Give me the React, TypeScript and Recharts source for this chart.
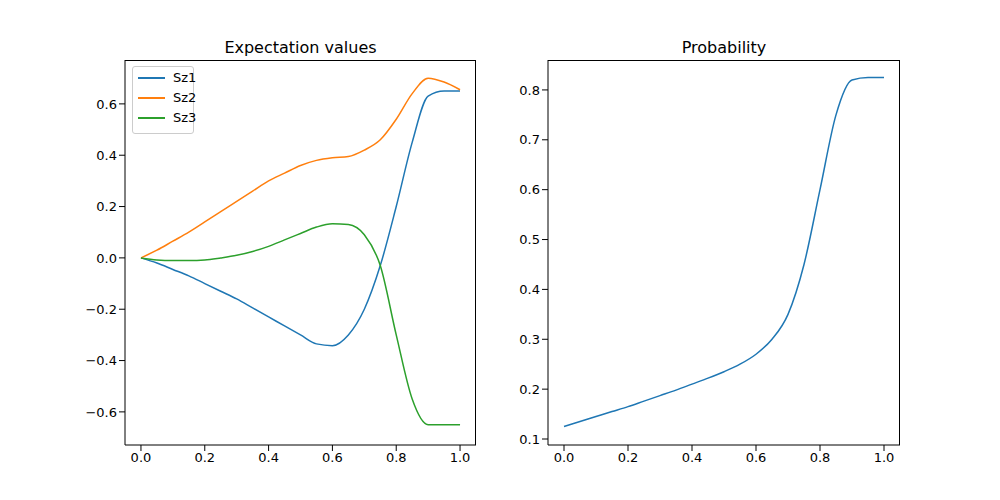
import React from "react";
import { LineChart, Line, XAxis, YAxis } from "recharts";

const xs = [0,0.05,0.1,0.15,0.2,0.25,0.3,0.35,0.4,0.45,0.5,0.55,0.6,0.65,0.7,0.75,0.8,0.85,0.9,0.95,1];
const sz1 = [0,-0.02,-0.045,-0.07,-0.1,-0.13,-0.16,-0.195,-0.23,-0.265,-0.3,-0.335,-0.342,-0.3,-0.2,-0.03,0.2,0.45,0.63,0.65,0.65];
const sz2 = [0,0.03,0.065,0.1,0.14,0.18,0.22,0.26,0.3,0.33,0.36,0.38,0.39,0.395,0.42,0.46,0.54,0.64,0.70,0.685,0.655];
const sz3 = [0,-0.008,-0.01,-0.01,-0.008,0,0.01,0.025,0.045,0.07,0.095,0.12,0.133,0.13,0.09,-0.03,-0.3,-0.55,-0.65,-0.65,-0.65];
const prob = [0.125,0.135,0.145,0.155,0.165,0.176,0.187,0.198,0.21,0.222,0.235,0.25,0.27,0.3,0.35,0.45,0.6,0.75,0.82,0.825,0.825];
const xTicks = [0,0.2,0.4,0.6,0.8,1.0];
const y1Ticks = [-0.6,-0.4,-0.2,0,0.2,0.4,0.6];
const y2Ticks = [0.1,0.2,0.3,0.4,0.5,0.6,0.7,0.8];

const data1 = xs.map((x, i) => ({ x, sz1: sz1[i], sz2: sz2[i], sz3: sz3[i] }));
const data2 = xs.map((x, i) => ({ x, p: prob[i] }));

const font = "DejaVu Sans";
const tickStyle = { fill: "#000", fontSize: 13, fontFamily: font };
const fmt = (v: number) => (v < 0 ? "\u2212" : "") + Math.abs(v).toFixed(1);

export default function App() {
  const common = (yDomain: number[], yTicks: number[]) => [
    <XAxis key="x" dataKey="x" type="number" domain={[-0.05, 1.05]} ticks={xTicks} tickFormatter={fmt}
      tick={tickStyle} stroke="#000" tickLine={{ stroke: "#000" }} height={30} interval={0} />,
    <YAxis key="y" type="number" domain={yDomain} ticks={yTicks} tickFormatter={fmt}
      tick={tickStyle} stroke="#000" width={50} interval={0} />,
  ];
  return (
    <div style={{ position: "absolute", left: 0, top: 0, width: 1000, height: 500, background: "#fff", fontFamily: font }}>
      <div style={{ position: "absolute", left: 125, width: 351, top: 38, textAlign: "center", fontSize: 16 }}>Expectation values</div>
      <div style={{ position: "absolute", left: 548, width: 352, top: 38, textAlign: "center", fontSize: 16 }}>Probability</div>
      <div style={{ position: "absolute", left: 0, top: 0 }}>
        <LineChart width={500} height={500} data={data1} margin={{ left: 75, top: 60, right: 24, bottom: 25 }}>
          {common([-0.729, 0.771], y1Ticks)}
          <Line dataKey="sz1" stroke="#1f77b4" strokeWidth={1.5} dot={false} type="monotone" isAnimationActive={false} />
          <Line dataKey="sz2" stroke="#ff7f0e" strokeWidth={1.5} dot={false} type="monotone" isAnimationActive={false} />
          <Line dataKey="sz3" stroke="#2ca02c" strokeWidth={1.5} dot={false} type="monotone" isAnimationActive={false} />
        </LineChart>
      </div>
      <div style={{ position: "absolute", left: 500, top: 0 }}>
        <LineChart width={500} height={500} data={data2} margin={{ left: -2, top: 60, right: 100, bottom: 25 }}>
          {common([0.088, 0.86], y2Ticks)}
          <Line dataKey="p" stroke="#1f77b4" strokeWidth={1.5} dot={false} type="monotone" isAnimationActive={false} />
        </LineChart>
      </div>
      <div style={{ position: "absolute", left: 125, top: 60, width: 351, height: 385, borderTop: "1px solid #000", borderRight: "1px solid #000", boxSizing: "border-box", pointerEvents: "none" }} />
      <div style={{ position: "absolute", left: 548, top: 60, width: 352, height: 385, borderTop: "1px solid #000", borderRight: "1px solid #000", boxSizing: "border-box", pointerEvents: "none" }} />
      <div style={{ position: "absolute", left: 132, top: 66, width: 60, height: 66, border: "1px solid #ccc", borderRadius: 3, background: "#fff", fontSize: 13 }}>
        {[["Sz1", "#1f77b4"], ["Sz2", "#ff7f0e"], ["Sz3", "#2ca02c"]].map(([n, c], i) => (
          <div key={n} style={{ position: "absolute", top: 3 + i * 20, left: 5, display: "flex", alignItems: "center" }}>
            <div style={{ width: 27, height: 2, background: c, marginRight: 8 }} />
            <span>{n}</span>
          </div>
        ))}
      </div>
    </div>
  );
}
